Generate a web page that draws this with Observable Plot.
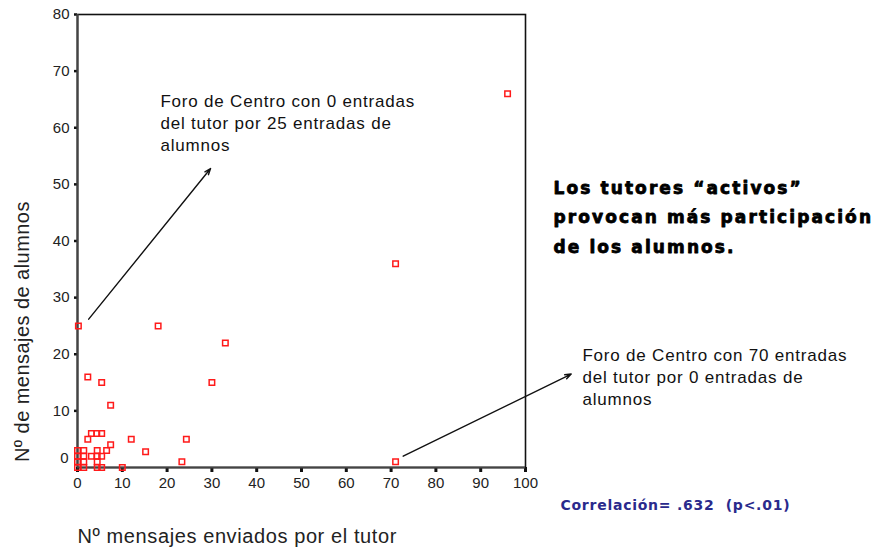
<!DOCTYPE html>
<html><head><meta charset="utf-8">
<script src="https://cdn.jsdelivr.net/npm/d3@7"></script>
<script src="https://cdn.jsdelivr.net/npm/@observablehq/plot@0.6"></script>
<style>body{margin:0;background:#fff}</style>
</head><body><div id="chart"></div>
<script>
// Nº mensajes enviados por el tutor (x) y Nº de mensajes de alumnos (y)
const tutorMsgs   = [0, 0, 0, 0, 1.4, 1.4, 1.4, 1.4, 2.3, 3.1, 4.3, 5.4, 3.1, 4.4, 5.4, 4.4, 4.4, 4.4, 5.4, 6.5, 7.4, 10, 12, 15.2, 23.3, 24.3, 0.2, 18, 33, 2.3, 5.4, 30, 7.4, 71, 71, 96];
const studentMsgs = [0, 1, 2, 3, 0, 1, 2, 3, 5, 6, 6, 6, 2, 2, 2, 3, 1, 0, 0, 3, 4, 0, 5, 2.8, 1, 5, 25, 25, 22, 16, 15, 15, 11, 1, 36, 66];

const xTicks = [0, 10, 20, 30, 40, 50, 60, 70, 80, 90, 100];
const yTicks = [10, 20, 30, 40, 50, 60, 70, 80];
const yZeroTick = [0];

const xTitle = "Nº mensajes enviados por el tutor";
const yTitle = "Nº de mensajes de alumnos";
const note1 = "Foro de Centro con 0 entradas\ndel tutor por 25 entradas de\nalumnos";
const note2 = "Foro de Centro con 70 entradas\ndel tutor por 0 entradas de\nalumnos";
const headline = "Los tutores “activos”\nprovocan más participación\nde los alumnos.";
const corrText = "Correlación= .632\u00a0 (p<.01)";

// annotation anchors (data units)
const noteAnchors = [{x: 18.5, y: 66.4, text: note1}, {x: 112.7, y: 21.6, text: note2}];
const arrows = [
  {x1: 2.5, y1: 26.2, x2: 29.7, y2: 52.8},
  {x1: 72.7, y1: 2.0, x2: 110.2, y2: 16.5}
];
const headAnchor = [{x: 106.25, y: 52.0, text: headline}];
const corrAnchor = [{x: 107.8, y: -5.7, text: corrText}];
const xTitleAnchor = [{x: 0, y: -10.8, text: xTitle}];
const yTitleAnchor = [{x: -12.3, y: 24, text: yTitle}];

const points = tutorMsgs.map((x, i) => ({x, y: studentMsgs[i]}));

const chart = Plot.plot({
  width: 877, height: 550,
  marginLeft: 77, marginRight: 352, marginTop: 14, marginBottom: 83,
  style: {fontFamily: "'Liberation Sans', Arial, sans-serif", background: "#fff", overflow: "visible", color: "#111"},
  x: {domain: [0, 100], label: null},
  y: {domain: [0, 80], label: null},
  marks: [
    Plot.frame({stroke: "#111", strokeWidth: 1.6}),
    Plot.axisX(xTicks, {tickSize: 5, tickPadding: 5, fontSize: 15, strokeWidth: 3, stroke: "#111", fill: "#222", label: null}),
    Plot.axisY(yTicks, {tickSize: 3, tickPadding: 5, fontSize: 15, strokeWidth: 2.5, stroke: "#111", fill: "#222", label: null}),
    Plot.axisY(yZeroTick, {tickSize: 0, tickPadding: 9, dy: -9.5, fontSize: 15, fill: "#222", label: null}),
    Plot.ruleX([0], {stroke: "#444", strokeWidth: 2.2}),
    Plot.ruleY([0], {stroke: "#444", strokeWidth: 2.2}),
    Plot.dot(points, {x: "x", y: "y", symbol: "square", r: 3.1, stroke: "#ff1a1a", strokeWidth: 1.5, fill: "none"}),
    Plot.arrow(arrows, {x1: "x1", y1: "y1", x2: "x2", y2: "y2", stroke: "#111", strokeWidth: 1.4, headLength: 7, headAngle: 40, insetStart: 0, insetEnd: 0}),
    Plot.text(noteAnchors, {x: "x", y: "y", text: "text", textAnchor: "start", lineAnchor: "top", lineHeight: 1.29, fontSize: 17, fill: "#111"}),
    Plot.text(headAnchor, {x: "x", y: "y", text: "text", textAnchor: "start", lineAnchor: "top", lineHeight: 1.735, fontSize: 17, fontWeight: "bold", fontFamily: "'DejaVu Sans', sans-serif", fill: "#000", stroke: "#000", strokeWidth: 0.8}),
    Plot.text(corrAnchor, {x: "x", y: "y", text: "text", textAnchor: "start", lineAnchor: "top", fontSize: 14, fontWeight: "bold", fontFamily: "'DejaVu Sans', sans-serif", fill: "#2a2a8c"}),
    Plot.text(xTitleAnchor, {x: "x", y: "y", text: "text", textAnchor: "start", lineAnchor: "top", fontSize: 20, fill: "#222"}),
    Plot.text(yTitleAnchor, {x: "x", y: "y", text: "text", rotate: -90, textAnchor: "middle", lineAnchor: "middle", fontSize: 20, fill: "#222"})
  ]
});

// letter spacing per annotation (matched by text content)
const spacing = new Map([
  [note1.replace(/\n/g, ""), "0.8px"],
  [note2.replace(/\n/g, ""), "0.8px"],
  [headline.replace(/\n/g, ""), "2.1px"],
  [corrText, "0.75px"],
  [xTitle, "0.6px"],
  [yTitle, "0.45px"]
]);
d3.select(chart).selectAll("text").each(function() {
  const s = spacing.get(this.textContent);
  if (s) this.style.letterSpacing = s;
});
document.getElementById("chart").appendChild(chart);
</script>
</body></html>
